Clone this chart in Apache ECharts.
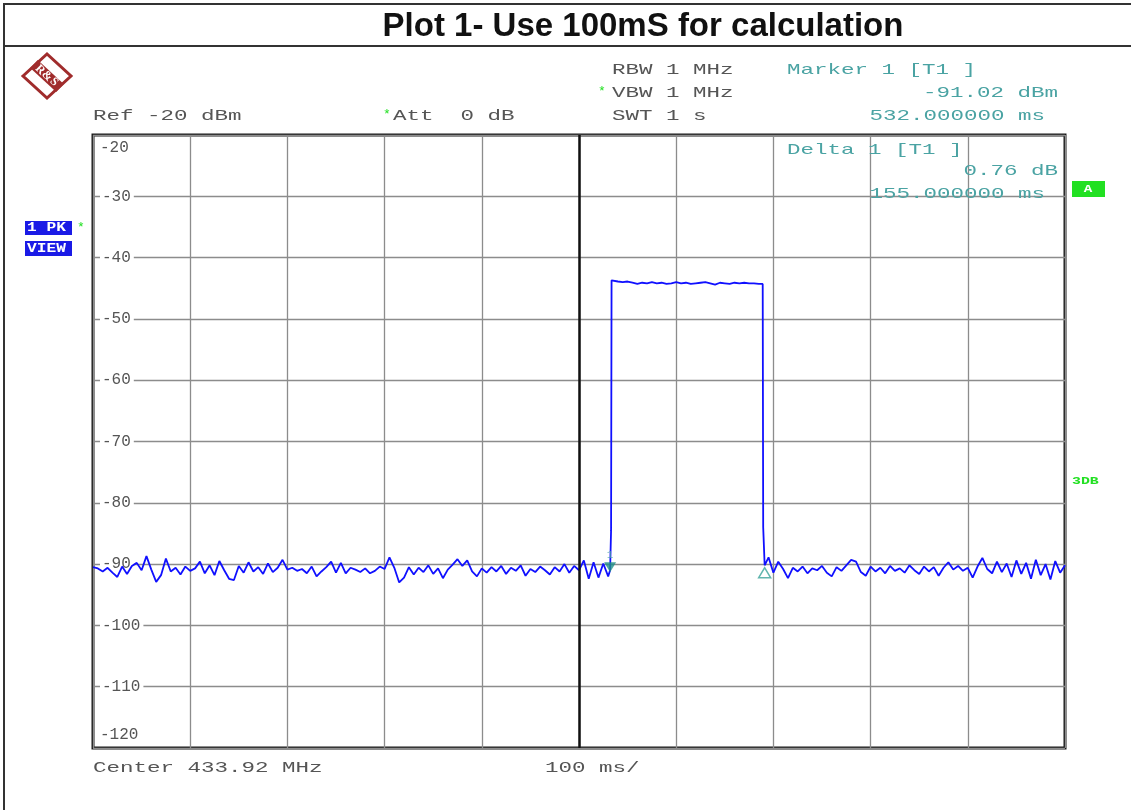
<!DOCTYPE html>
<html>
<head>
<meta charset="utf-8">
<script src="https://cdn.jsdelivr.net/npm/echarts@6/dist/echarts.min.js"></script>
<style>
html,body{margin:0;padding:0;background:#fff;}
#chart{width:1131px;height:810px;}
</style>
</head>
<body>
<div id="chart"></div>
<script>
// ---- Data ----
var title = 'Plot 1- Use 100mS for calculation';
var yTicks = [-120, -110, -100, -90, -80, -70, -60, -50, -40, -30, -20];
var timeStep = 5; // ms between samples in each segment

// noise before the burst: t = 0 .. 530 ms
var noiseBeforeStart = 0;
var noiseBefore = [
 -90.5,-90.7,-91.2,-90.6,-91.4,-92.1,-90.4,-91.6,-90.3,-89.8,
 -91.0,-88.7,-90.9,-92.9,-91.8,-89.1,-91.2,-90.6,-91.7,-90.4,
 -91.1,-90.7,-89.6,-91.5,-90.2,-91.8,-89.5,-91.0,-92.4,-92.6,
 -90.3,-91.4,-89.7,-91.2,-90.5,-91.6,-89.9,-91.3,-90.6,-89.3,
 -90.9,-90.6,-91.1,-90.8,-91.5,-90.4,-92.0,-91.2,-90.5,-89.6,
 -91.4,-89.8,-91.5,-90.6,-90.9,-91.3,-90.7,-91.5,-91.1,-90.4,
 -90.8,-88.9,-90.6,-93.0,-92.2,-90.5,-91.7,-90.6,-91.3,-90.2,
 -91.6,-90.7,-92.3,-90.9,-90.1,-89.2,-90.3,-89.4,-91.2,-92.0,
 -90.7,-91.4,-90.5,-91.2,-90.3,-91.6,-90.6,-91.1,-90.2,-91.9,
 -90.8,-91.3,-90.4,-91.0,-91.7,-90.5,-91.2,-90.0,-91.4,-90.3,
 -91.0,-89.4,-92.4,-89.7,-92.2,-89.9,-92.0
];
// rising edge samples [ms, dBm]
var riseEdge = [[532, -91.0], [533, -84.5], [533.5, -43.7]];
// burst top: t = 535 .. 685 ms
var burstStart = 535;
var burstTop = [
 -43.8,-43.9,-44.0,-43.9,-44.1,-44.3,-44.1,-44.2,-44.0,-44.2,
 -44.1,-44.3,-44.2,-44.0,-44.2,-44.1,-44.3,-44.2,-44.1,-44.0,
 -44.2,-44.4,-44.1,-44.2,-44.3,-44.1,-44.2,-44.1,-44.2,-44.2,-44.3
];
// falling edge samples [ms, dBm]
var fallEdge = [[689, -44.3], [689.5, -84.0], [691, -90.2]];
// noise after the burst: t = 695 .. 1000 ms
var noiseAfterStart = 695;
var noiseAfter = [
 -88.9,-91.4,-89.6,-90.8,-92.3,-90.6,-91.2,-90.4,-91.5,-90.7,
 -91.0,-90.3,-91.4,-92.0,-90.5,-91.1,-90.2,-89.3,-89.6,-91.3,
 -91.9,-90.4,-91.2,-90.6,-91.5,-90.3,-91.1,-90.7,-91.4,-90.2,
 -91.0,-91.6,-90.4,-91.2,-90.5,-91.9,-90.6,-89.7,-90.9,-90.3,
 -91.1,-90.6,-92.2,-90.4,-89.0,-90.8,-91.5,-89.6,-91.3,-89.9,
 -92.1,-89.4,-91.6,-89.8,-92.4,-89.3,-91.8,-90.0,-92.5,-89.5,
 -91.4,-90.2
];
// markers
var marker1 = [532, -91.02];
var delta1 = [691, -90.26];

// ---- Build trace ----
function seg(start, arr) {
  return arr.map(function (v, i) { return [start + i * timeStep, v]; });
}
var trace = [].concat(
  seg(noiseBeforeStart, noiseBefore),
  riseEdge,
  seg(burstStart, burstTop),
  fallEdge,
  seg(noiseAfterStart, noiseAfter)
);
var yMin = yTicks[0], yMax = yTicks[yTicks.length - 1];

var MONO = '"Liberation Mono", "DejaVu Sans Mono", monospace';
var GRAY = '#555';
var TEAL = '#4aa3a3';
var GREEN = '#22e022';
var LOGO = '#a02c2c';

function txt(x, y, s, color, align, size, sx, weight) {
  return {
    type: 'text', x: x, y: y, scaleX: sx || 1.5, scaleY: 1, z: 100,
    style: {
      text: s, x: 0, y: 0,
      font: (weight || 'normal') + ' ' + (size || 15) + 'px ' + MONO,
      fill: color || GRAY,
      textAlign: align || 'left', align: align || 'left',
      textVerticalAlign: 'middle', verticalAlign: 'middle'
    }
  };
}
function box(x, y, w, h, color) {
  return { type: 'rect', z: 90, shape: { x: x, y: y, width: w, height: h }, style: { fill: color } };
}
function line(x1, y1, x2, y2, w, c) {
  return { type: 'line', z: 80, shape: { x1: x1, y1: y1, x2: x2, y2: y2 }, style: { stroke: c || '#333', lineWidth: w || 2 } };
}
function logoText(x, y, s) {
  return { type: 'text', x: x, y: y, rotation: -Math.PI / 4,
    style: { text: s, x: 0, y: 0, font: 'bold 12px "Liberation Serif", serif', fill: '#fff',
      align: 'center', verticalAlign: 'middle', textAlign: 'center', textVerticalAlign: 'middle' } };
}

var graphics = [
  line(3, 4, 1131, 4, 2),
  line(4, 4, 4, 810, 2),
  line(4, 46, 1131, 46, 2),
  { type: 'text', x: 643, y: 27, z: 100,
    style: { text: title, x: 0, y: 0, font: 'bold 33px "Liberation Sans", Arial, sans-serif', fill: '#111',
      textAlign: 'center', align: 'center', textVerticalAlign: 'middle', verticalAlign: 'middle' } },
  // logo
  { type: 'group', x: 47, y: 76, z: 100, children: [
    { type: 'polygon', shape: { points: [[-24, 0], [0, -22], [24, 0], [0, 22]] },
      style: { fill: 'none', stroke: LOGO, lineWidth: 3 } },
    { type: 'line', shape: { x1: -13, y1: -12, x2: 13, y2: 12 }, style: { stroke: LOGO, lineWidth: 11 } },
    logoText(-7, -6, 'R'),
    logoText(0, 0, '&'),
    logoText(7, 6, 'S')
  ]},
  // header texts
  txt(612, 70, 'RBW 1 MHz'),
  txt(612, 93, 'VBW 1 MHz'),
  txt(598, 92, '*', GREEN, 'left', 13, 1),
  txt(612, 116, 'SWT 1 s'),
  txt(93, 116, 'Ref -20 dBm'),
  txt(393, 116, 'Att  0 dB'),
  txt(383, 115, '*', GREEN, 'left', 13, 1),
  txt(787, 70, 'Marker 1 [T1 ]', TEAL),
  txt(1058, 93, '-91.02 dBm', TEAL, 'right'),
  txt(1045, 116, '532.000000 ms', TEAL, 'right'),
  txt(787, 150, 'Delta 1 [T1 ]', TEAL),
  txt(1058, 171, '0.76 dB', TEAL, 'right'),
  txt(1045, 194, '155.000000 ms', TEAL, 'right'),
  txt(93, 768, 'Center 433.92 MHz'),
  txt(545, 768, '100 ms/'),
  // left trace boxes
  box(25, 221, 47, 14, '#1a1ae6'),
  box(25, 241, 47, 15, '#1a1ae6'),
  txt(27, 228, '1 PK', '#fff', 'left', 12, 1.35, 'bold'),
  txt(27, 249, 'VIEW', '#fff', 'left', 12, 1.35, 'bold'),
  txt(77, 228, '*', GREEN, 'left', 13, 1),
  // right side
  box(1072, 181, 33, 16, GREEN),
  txt(1088, 189, 'A', '#fff', 'center', 11, 1.3, 'bold'),
  txt(1072, 481, '3DB', GREEN, 'left', 11, 1.35, 'bold')
];

var chart = echarts.init(document.getElementById('chart'), null, { renderer: 'canvas' });
chart.setOption({
  animation: false,
  backgroundColor: '#fff',
  grid: { left: 93, right: 66, top: 135, bottom: 62, show: true, borderColor: '#1a1a1a', borderWidth: 3, containLabel: false },
  xAxis: {
    type: 'value', min: 0, max: 1000, interval: 100,
    axisLine: { show: false }, axisTick: { show: false }, axisLabel: { show: false },
    splitLine: { show: true, lineStyle: { color: '#8c8c8c', width: 1.3 } }
  },
  yAxis: {
    type: 'value', min: yMin, max: yMax, interval: 10,
    axisLine: { show: false }, axisTick: { show: false },
    splitLine: { show: true, lineStyle: { color: '#8c8c8c', width: 1.3 } },
    axisLabel: {
      inside: true, margin: 7, color: GRAY, fontFamily: MONO, fontSize: 16,
      verticalAlignMaxLabel: 'top', verticalAlignMinLabel: 'bottom',
      formatter: function (v) {
        if (v === yMax) return '{t|' + v + '}';
        if (v === yMin) return '{b|' + v + '}';
        return '{n|' + v + '}';
      },
      rich: {
        t: { lineHeight: 25, fontFamily: MONO, fontSize: 16, color: GRAY },
        b: { lineHeight: 26, fontFamily: MONO, fontSize: 16, color: GRAY },
        n: { backgroundColor: '#fff', padding: [0, 3, 0, 2], fontFamily: MONO, fontSize: 16, color: GRAY }
      }
    },
    z: 1
  },
  series: [
    {
      type: 'line', data: trace, showSymbol: false, symbol: 'none',
      lineStyle: { color: '#1010ff', width: 1.8 },
      z: 3,
      markLine: {
        silent: true, symbol: 'none', label: { show: false },
        lineStyle: { color: '#111', width: 2.5, type: 'solid' },
        data: [{ xAxis: 500 }]
      }
    },
    {
      type: 'scatter', data: [marker1], symbol: 'triangle', symbolRotate: 180,
      symbolSize: [12, 10], symbolOffset: [0, -3], z: 6,
      itemStyle: { color: '#1f8f86' },
      label: { show: true, position: 'top', distance: 2, formatter: '1', color: TEAL, fontSize: 11, fontFamily: MONO }
    },
    {
      type: 'scatter', data: [delta1], symbol: 'triangle',
      symbolSize: [12, 10], symbolOffset: [0, 7], z: 6,
      itemStyle: { color: '#fff', borderColor: '#3aa39a', borderWidth: 1.5 }
    }
  ],
  graphic: graphics
});
</script>
</body>
</html>
